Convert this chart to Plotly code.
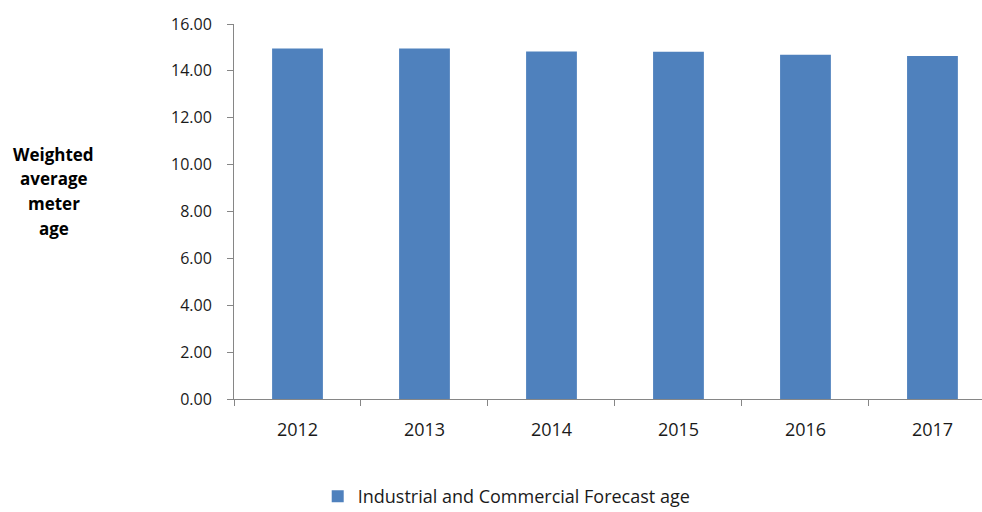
import plotly.graph_objects as go

years = ["2012", "2013", "2014", "2015", "2016", "2017"]
forecast_age = [14.96, 14.95, 14.83, 14.82, 14.69, 14.63]
series_name = "Industrial and Commercial Forecast age"
y_title_lines = ["Weighted", "average", "meter", "age"]

bar_color = "#4F81BD"
axis_color = "#868686"
font_family = "Open Sans, Liberation Sans, sans-serif"

fig = go.Figure(
    go.Bar(
        x=years,
        y=forecast_age,
        name=series_name,
        marker=dict(color=bar_color, line=dict(width=0)),
        showlegend=True,
    )
)

# Stacked y-axis title, one annotation per line for wider line spacing
title_annotations = [
    dict(
        text=f"<b>{line}</b>",
        xref="paper",
        yref="paper",
        x=-0.241,
        y=0.653 - i * 0.066,
        xanchor="center",
        yanchor="middle",
        showarrow=False,
        font=dict(size=17, color="#000000"),
    )
    for i, line in enumerate(y_title_lines)
]

fig.update_layout(
    width=982,
    height=512,
    margin=dict(l=234, r=0, t=24, b=113, autoexpand=False),
    paper_bgcolor="white",
    plot_bgcolor="white",
    bargap=0.6,
    font=dict(family=font_family, size=14, color="#1a1a1a"),
    showlegend=True,
    legend=dict(
        orientation="h",
        xref="container",
        yref="container",
        x=0.516,
        xanchor="center",
        y=0.03,
        yanchor="middle",
        font=dict(size=18, color="#1a1a1a"),
        itemwidth=30,
    ),
    xaxis=dict(
        type="category",
        range=[-0.5, 5.39],
        showline=True,
        linecolor=axis_color,
        linewidth=1,
        ticks="outside",
        tickson="boundaries",
        ticklen=6,
        tickcolor=axis_color,
        showgrid=False,
        tickfont=dict(size=18),
        ticklabelstandoff=14,
    ),
    yaxis=dict(
        range=[0, 16],
        dtick=2,
        tickformat=".2f",
        showline=True,
        linecolor=axis_color,
        linewidth=1,
        ticks="outside",
        ticklen=6,
        tickcolor=axis_color,
        showgrid=False,
        zeroline=False,
        tickfont=dict(size=16),
        ticklabelstandoff=12,
    ),
    annotations=title_annotations,
)

fig.write_html("out.html")
